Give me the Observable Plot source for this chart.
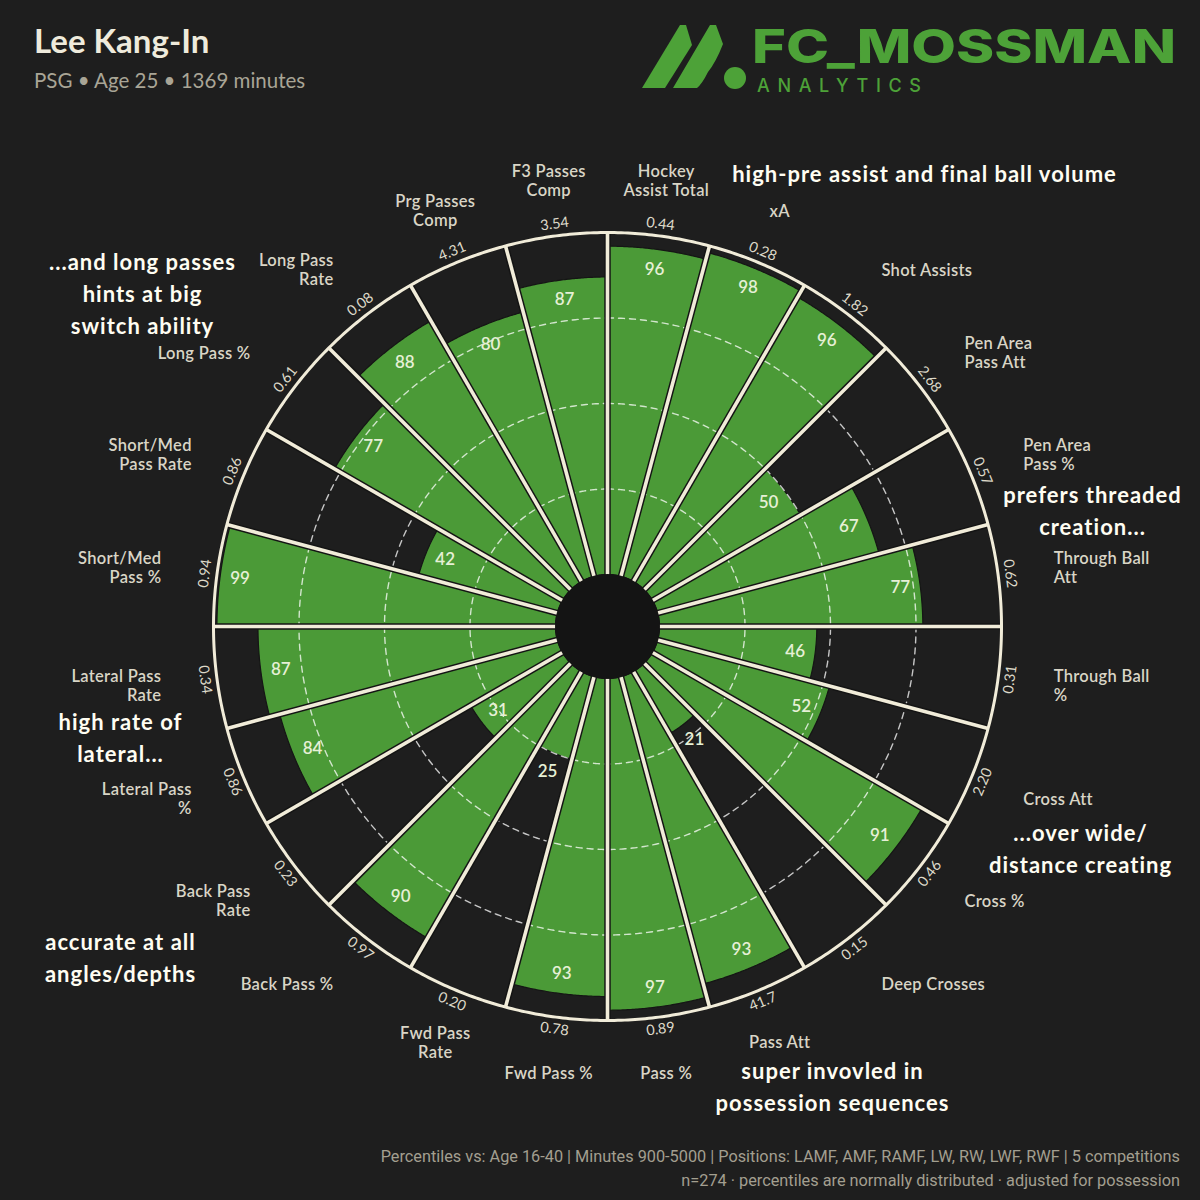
<!DOCTYPE html>
<html>
<head>
<meta charset="utf-8">
<script src="https://cdn.jsdelivr.net/npm/d3@7"></script>
<script src="https://cdn.jsdelivr.net/npm/@observablehq/plot@0.6"></script>
<style>
html, body { margin: 0; padding: 0; background: #1e1e1e; }
#page { position: relative; width: 1200px; height: 1200px; overflow: hidden; background: #1e1e1e; font-family: Lato, "Noto Sans", sans-serif; }
#title { position: absolute; left: 34px; top: 20px; font-size: 33px; font-weight: 700; color: #efebdc; line-height: 40px; white-space: nowrap; }
#subtitle { position: absolute; left: 34px; top: 67px; font-size: 20.5px; color: #a9a596; line-height: 26px; white-space: nowrap; }
#logo { position: absolute; left: 620px; top: 10px; }
#chart { position: absolute; left: 0; top: 110px; }
#footer { position: absolute; right: 20px; top: 1145px; text-align: right; font-family: Roboto, sans-serif; font-size: 16.3px; color: #a39f90; line-height: 24px; white-space: nowrap; }
</style>
</head>
<body>
<div id="page">
  <div id="title">Lee Kang-In</div>
  <div id="subtitle">PSG • Age 25 • 1369 minutes</div>
  <svg id="logo" width="570" height="95" viewBox="620 10 570 95">
    <polygon points="642,88 680,25 686,25 692,45 665,88" fill="#4da238"/>
    <path d="M673,88 L710,25 L716,25 L723,44 Q716,62 708,72 Q702,84 697,88 Z" fill="#4da238"/>
    <circle cx="735" cy="78" r="11" fill="#4da238"/>
    <text x="752" y="63" font-family="Inter, 'Open Sans', sans-serif" font-weight="800" font-size="46" fill="#4da238" textLength="424" lengthAdjust="spacingAndGlyphs">FC_MOSSMAN</text>
    <text x="757" y="92" font-family="Inter, 'Open Sans', sans-serif" font-weight="500" font-size="18" fill="#4da238" textLength="164" lengthAdjust="spacing">ANALYTICS</text>
  </svg>
  <div id="chart"></div>
  <div id="footer">Percentiles vs: Age 16-40 | Minutes 900-5000 | Positions: LAMF, AMF, RAMF, LW, RW, LWF, RWF | 5 competitions<br>n=274 · percentiles are normally distributed · adjusted for possession</div>
</div>
<script>
// ---------------- DATA ----------------
const categories = [
  "Hockey\nAssist Total", "xA", "Shot Assists", "Pen Area\nPass Att", "Pen Area\nPass %",
  "Through Ball\nAtt", "Through Ball\n%", "Cross Att", "Cross %", "Deep Crosses",
  "Pass Att", "Pass %", "Fwd Pass %", "Fwd Pass\nRate", "Back Pass %",
  "Back Pass\nRate", "Lateral Pass\n%", "Lateral Pass\nRate", "Short/Med\nPass %", "Short/Med\nPass Rate",
  "Long Pass %", "Long Pass\nRate", "Prg Passes\nComp", "F3 Passes\nComp"
];
const percentiles = [96, 98, 96, 50, 67, 77, 46, 52, 91, 21, 93, 97, 93, 25, 90, 31, 84, 87, 99, 42, 77, 88, 80, 87];
const rawValues = ["0.44", "0.28", "1.82", "2.68", "0.57", "0.62", "0.31", "2.20", "0.46", "0.15", "41.7", "0.89",
                   "0.78", "0.20", "0.97", "0.23", "0.86", "0.34", "0.94", "0.86", "0.61", "0.08", "4.31", "3.54"];
const gridLevels = [25, 50, 75];
const annotations = [
  "high-pre assist and final ball volume",
  "...and long passes\nhints at big\nswitch ability",
  "prefers threaded\ncreation...",
  "high rate of\nlateral...",
  "...over wide/\ndistance creating",
  "accurate at all\nangles/depths",
  "super invovled in\npossession sequences"
];

// ---------------- LAYOUT ----------------
const R0 = 52, R1 = 394;              // pixel radius for percentile 0 and 100
const rad = v => R0 + (R1 - R0) * v / 100;
const n = categories.length, step = 360 / n;
const polar = (deg, r) => [r * Math.sin(deg * Math.PI / 180), -r * Math.cos(deg * Math.PI / 180)];
// annotation anchor positions (chart coords, px from centre)
const annPos = [[317, -455], [-465, -335], [485, -118], [-487, 109], [473, 220], [-487, 329], [225, 458]];

// bars as closed polygons
const bars = percentiles.flatMap((v, i) => {
  const a0 = i * step, a1 = (i + 1) * step, pts = [];
  for (let a = a0; a <= a1 + 1e-9; a += 0.25) pts.push(polar(a, rad(v)));
  for (let a = a1; a >= a0 - 1e-9; a -= 0.25) pts.push(polar(a, R0));
  pts.push(pts[0]);
  return pts.map(([x, y]) => ({i, x, y}));
});
const circle = (key, r) => d3.range(0, 360.5, 0.5).map(a => { const [x, y] = polar(a, r); return {key, x, y}; });
const grid = gridLevels.flatMap(v => circle(v, rad(v)));
const outer = circle("outer", rad(100));
const hole = circle("hole", rad(0));
const seps = d3.range(n).map(i => {
  const [x1, y1] = polar(i * step, rad(0)), [x2, y2] = polar(i * step, rad(100));
  return {x1, y1, x2, y2};
});
const valueLabels = percentiles.map((v, i) => {
  const r = v >= 30 ? rad(v) - 20 : rad(v) + 19;
  const [x, y] = polar((i + 0.5) * step, r);
  return {x, y, text: String(v)};
});
const rawLabels = rawValues.map((t, i) => {
  const a = (i + 0.5) * step;
  const [x, y] = polar(a, rad(100) + 12);
  const rot = a <= 90 ? a : a < 270 ? a - 180 : a - 360;
  return {x, y, text: t, rot};
});
const catLabels = categories.map((t, i) => {
  const a = (i + 0.5) * step;
  const [x, y] = polar(a, 450);
  const s = Math.sin(a * Math.PI / 180);
  const anchor = Math.abs(s) < 0.5 ? "middle" : s > 0 ? "start" : "end";
  return {x, y, text: t, anchor};
});
const annData = annotations.map((t, i) => ({text: t, x: annPos[i][0], y: annPos[i][1]}));

const catMark = anchor => Plot.text(catLabels.filter(d => d.anchor === anchor), {
  x: "x", y: "y", text: "text", textAnchor: anchor, fill: "#d9d5c6", fontSize: 16.5,
  fontWeight: 600, lineHeight: 1.15, fontFamily: "Lato", ariaDescription: "category-labels"
});

const chart = Plot.plot({
  width: 1200, height: 1030, margin: 0,
  x: {domain: [-607, 593], range: [0, 1200], axis: null},
  y: {domain: [-516, 514], range: [0, 1030], axis: null},
  style: {background: "transparent", fontFamily: "Lato"},
  marks: [
    Plot.line(bars, {x: "x", y: "y", z: "i", fill: "#4b9a37", stroke: "#151515", strokeWidth: 1.2, curve: "linear"}),
    Plot.line(grid, {x: "x", y: "y", z: "key", stroke: "#ffffff", strokeOpacity: 0.75, strokeWidth: 1.4, strokeDasharray: "6,5"}),
    Plot.link(seps, {x1: "x1", y1: "y1", x2: "x2", y2: "y2", stroke: "#141414", strokeWidth: 6.5}),
    Plot.link(seps, {x1: "x1", y1: "y1", x2: "x2", y2: "y2", stroke: "#f1ecd9", strokeWidth: 3.6}),
    Plot.line(outer, {x: "x", y: "y", stroke: "#f1ecd9", strokeWidth: 3}),
    Plot.line(hole, {x: "x", y: "y", fill: "#141414", stroke: "#141414", strokeWidth: 1}),
    Plot.text(valueLabels, {x: "x", y: "y", text: "text", fill: "#e6f0d6", fontSize: 17, fontWeight: 600, fontFamily: "Lato"}),
    Plot.text(rawLabels, {x: "x", y: "y", text: "text", rotate: "rot", fill: "#ddd9c9", fontSize: 14.5, fontFamily: "Lato"}),
    catMark("middle"), catMark("start"), catMark("end"),
    Plot.text(annData, {x: "x", y: "y", text: "text", fill: "#fffdf2", fontSize: 22, fontWeight: 700, lineHeight: 1.45, fontFamily: "Lato", ariaDescription: "annotations"})
  ]
});
d3.select(chart).selectAll('g[aria-description="annotations"] text').style("letter-spacing", "1px");
d3.select(chart).selectAll('g[aria-description="category-labels"] text').style("letter-spacing", "0.3px");
document.getElementById("chart").appendChild(chart);
</script>
</body>
</html>
